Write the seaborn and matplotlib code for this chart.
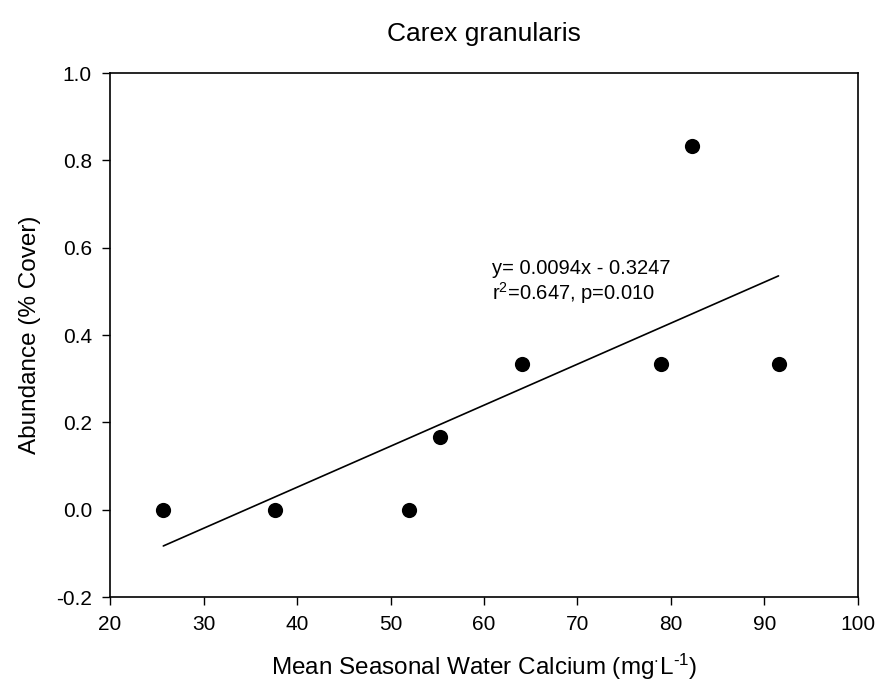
import matplotlib
matplotlib.use("Agg")
import matplotlib.pyplot as plt
import seaborn as sns
import numpy as np
import pandas as pd

calcium = [25.7, 37.6, 52.0, 55.3, 64.1, 78.9, 82.2, 91.5]
abundance = [0.0, 0.0, 0.0, 0.167, 0.333, 0.333, 0.833, 0.333]
slope = 0.0094
intercept = -0.3247
title = "Carex granularis"
eq_line1 = "y= 0.0094x - 0.3247"
eq_line2 = "r$^2$=0.647, p=0.010"
x_ticks = [20, 30, 40, 50, 60, 70, 80, 90, 100]
y_ticks = [-0.2, 0.0, 0.2, 0.4, 0.6, 0.8, 1.0]

sns.set_theme(style="ticks")
plt.rcParams['font.family'] = ['Liberation Sans', 'DejaVu Sans']
plt.rcParams['mathtext.fontset'] = 'custom'
plt.rcParams['mathtext.rm'] = 'Liberation Sans'
plt.rcParams['mathtext.it'] = 'Liberation Sans'

df = pd.DataFrame({"x": calcium, "y": abundance})

fig = plt.figure(figsize=(8.78, 6.87), dpi=100)
ax = fig.add_axes([0.1253, 0.131, 0.8519, 0.7627])

sns.scatterplot(data=df, x="x", y="y", ax=ax, color="black", s=120,
                edgecolor="black", linewidth=0, zorder=3)
xs = np.array([min(calcium), max(calcium)])
ax.plot(xs, slope * xs + intercept, color="black", lw=1.2, zorder=2)

ax.set_xlim(20, 100)
ax.set_ylim(-0.2, 1.0)
ax.set_xticks(x_ticks)
ax.set_xticklabels([str(t) for t in x_ticks])
ax.set_yticks(y_ticks)
ax.set_yticklabels([f"{t:.1f}" for t in y_ticks])
ax.tick_params(direction="out", length=6, width=1, labelsize=15, colors="black", pad=7)
for sp in ax.spines.values():
    sp.set_visible(True)
    sp.set_color("black")
    sp.set_linewidth(1.2)

ax.set_xlabel("Mean Seasonal Water Calcium (mg$^{\\cdot}$L$^{\\text{-1}}$)", fontsize=17.5, labelpad=13, color="black")
ax.set_ylabel("Abundance (% Cover)", fontsize=17.5, labelpad=11, color="black")
ax.set_title(title, fontsize=19, pad=23, color="black")
ax.text(60.9, 0.5397, eq_line1, fontsize=14.5, va="baseline", ha="left", color="black")
ax.text(60.9, 0.480, eq_line2, fontsize=14.5, va="baseline", ha="left", color="black")

fig.savefig("out.png", dpi=100)
